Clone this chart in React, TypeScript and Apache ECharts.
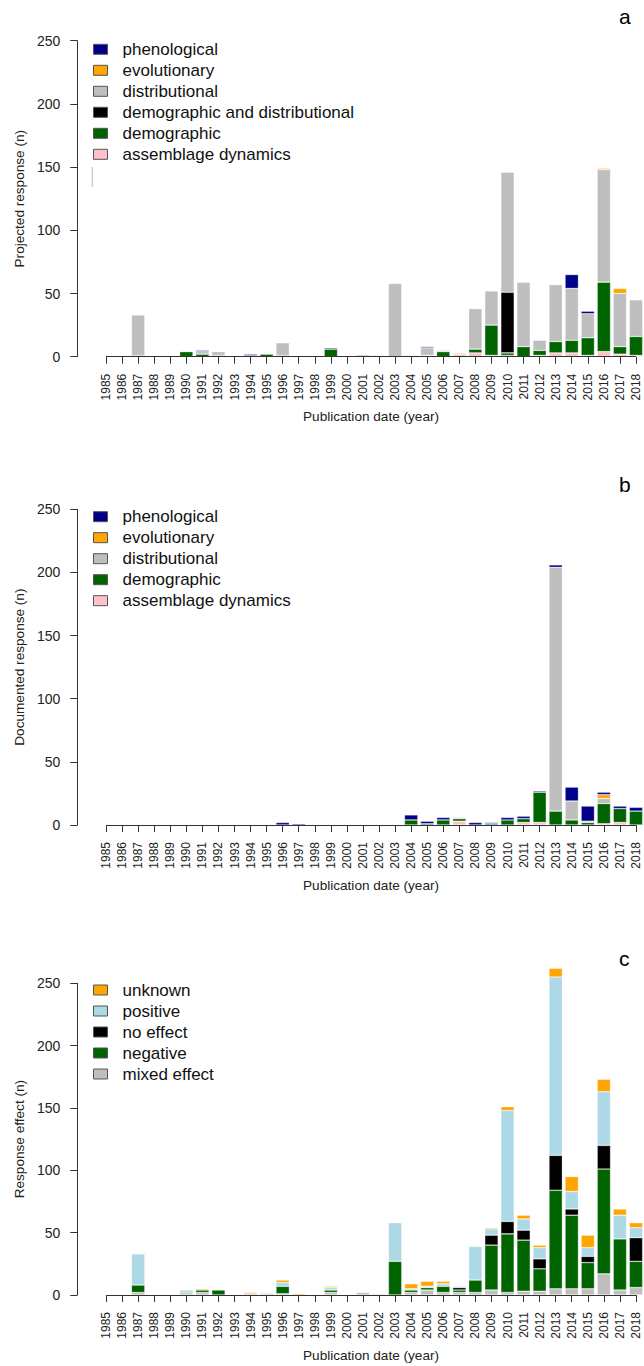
import React, { useEffect, useRef } from "react";
import * as echarts from "echarts";

const YEARS = [
  "1985","1986","1987","1988","1989","1990","1991","1992","1993","1994",
  "1995","1996","1997","1998","1999","2000","2001","2002","2003","2004",
  "2005","2006","2007","2008","2009","2010","2011","2012","2013","2014",
  "2015","2016","2017","2018",
];

// Panel a: projected responses (1985..2018)
const A_ASSEMBLAGE = [0,0,0,0,0, 0,0,0,0,0, 0,0,0,0,0, 0,0,0,0,0, 1,0,2,3,1, 1,0,1,3,3, 1,4,2,1];
const A_DEMOGRAPHIC = [0,0,1,0,0, 4,2,1,0,1, 2,1,0,0,6, 0,1,0,0,0, 0,4,0,3,24, 2,8,4,9,10, 14,55,6,15];
const A_DEMDIST = [0,0,0,0,0, 0,0,0,0,0, 0,0,0,0,0, 0,0,0,0,0, 0,0,0,0,0, 48,0,0,0,0, 0,0,0,0];
const A_DISTRIBUTIONAL = [0,0,32,0,0, 0,2,3,0,0, 0,10,0,0,0, 0,0,1,58,1, 6,1,1,32,27, 95,51,8,45,41, 19,89,42,29];
const A_EVOLUTIONARY = [0,0,0,0,0, 0,0,0,0,0, 0,0,0,0,0, 0,0,0,0,0, 0,0,0,0,0, 0,0,0,0,0, 0,1,4,0];
const A_PHENOLOGICAL = [0,0,0,0,0, 0,1,0,0,1, 0,0,0,0,1, 0,0,0,0,0, 1,0,0,0,0, 0,0,0,0,11, 2,0,0,0];

// Panel b: documented responses
const B_ASSEMBLAGE = [0,0,0,0,0, 0,0,0,0,0, 0,0,0,0,0, 0,0,0,0,0, 0,0,3,0,0, 0,2,2,0,0, 0,1,2,0];
const B_DEMOGRAPHIC = [0,0,0,0,0, 0,0,0,0,0, 0,0,0,0,0, 0,0,0,0,4, 1,4,2,0,1, 4,3,24,11,4, 2,16,11,11];
const B_DISTRIBUTIONAL = [0,0,0,0,0, 0,0,0,0,0, 0,0,0,0,0, 0,0,0,0,0, 0,0,1,0,0, 0,0,0,193,15, 1,4,0,0];
const B_EVOLUTIONARY = [0,0,0,0,0, 0,0,0,0,0, 0,0,0,0,0, 0,0,0,0,0, 0,0,0,0,0, 0,0,0,0,0, 0,3,0,0];
const B_PHENOLOGICAL = [0,0,0,0,0, 0,0,0,0,0, 0,2,1,0,0, 0,0,0,0,4, 2,2,0,2,1, 2,2,1,2,11, 12,2,2,3];

// Panel c: response effect
const C_MIXED = [0,0,2,0,0, 1,2,0,0,1, 1,1,0,0,2, 0,2,0,0,2, 4,2,2,2,4, 2,3,3,5,5, 5,17,4,6];
const C_NEGATIVE = [0,0,6,0,0, 1,2,4,0,0, 0,6,0,0,2, 0,0,0,27,2, 2,5,2,10,36, 47,41,18,79,59, 21,84,41,21];
const C_NOEFFECT = [0,0,0,0,0, 0,0,0,0,0, 0,0,0,0,0, 0,0,0,0,0, 0,0,2,0,8, 10,8,8,28,5, 5,19,0,19];
const C_POSITIVE = [0,0,25,0,0, 2,0,0,0,0, 1,3,0,0,2, 0,0,1,31,1, 1,2,1,27,5, 89,9,9,143,14, 7,43,19,8];
const C_UNKNOWN = [0,0,0,0,0, 0,1,0,0,1, 0,2,1,0,1, 0,0,0,0,4, 4,2,0,0,1, 3,3,2,7,12, 10,10,5,4];

const Y_TICKS = { min: 0, max: 250, interval: 50 };
const PANEL_LETTERS = ["a", "b", "c"];
const Y_TITLES = ["Projected response (n)", "Documented response (n)", "Response effect (n)"];
const X_TITLE = "Publication date (year)";

const COL = {
  navy: "#00008B",
  orange: "#FFA500",
  grey: "#BEBEBE",
  black: "#000000",
  green: "#006400",
  pink: "#FFC0CB",
  lightblue: "#ADD8E6",
};

const PANELS = [
  {
    series: [
      { name: "assemblage dynamics", data: A_ASSEMBLAGE, color: COL.pink },
      { name: "demographic", data: A_DEMOGRAPHIC, color: COL.green },
      { name: "demographic and distributional", data: A_DEMDIST, color: COL.black },
      { name: "distributional", data: A_DISTRIBUTIONAL, color: COL.grey },
      { name: "evolutionary", data: A_EVOLUTIONARY, color: COL.orange },
      { name: "phenological", data: A_PHENOLOGICAL, color: COL.navy },
    ],
  },
  {
    series: [
      { name: "assemblage dynamics", data: B_ASSEMBLAGE, color: COL.pink },
      { name: "demographic", data: B_DEMOGRAPHIC, color: COL.green },
      { name: "distributional", data: B_DISTRIBUTIONAL, color: COL.grey },
      { name: "evolutionary", data: B_EVOLUTIONARY, color: COL.orange },
      { name: "phenological", data: B_PHENOLOGICAL, color: COL.navy },
    ],
  },
  {
    series: [
      { name: "mixed effect", data: C_MIXED, color: COL.grey },
      { name: "negative", data: C_NEGATIVE, color: COL.green },
      { name: "no effect", data: C_NOEFFECT, color: COL.black },
      { name: "positive", data: C_POSITIVE, color: COL.lightblue },
      { name: "unknown", data: C_UNKNOWN, color: COL.orange },
    ],
  },
];

const FONT = "'Liberation Sans', Arial, Helvetica, sans-serif";
const AXIS_COLOR = "#333";

export default function App() {
  const ref = useRef<HTMLDivElement>(null);

  useEffect(() => {
    if (!ref.current) return;
    const chart = echarts.init(ref.current, undefined, { renderer: "svg" });

    const grids = [
      { left: 98, width: 547, top: 40.7, height: 316 },
      { left: 98, width: 547, top: 509.3, height: 315.7 },
      { left: 98, width: 547, top: 983.3, height: 311.7 },
    ];
    const legendTops = [40.8, 508.2, 981.5];
    const letterTops = [18, 486, 960];

    const xAxes = grids.map((_, i) => ({
      type: "category",
      gridIndex: i,
      data: YEARS,
      axisLine: { show: false },
      axisTick: { show: true, alignWithLabel: true, interval: 0, length: 7, lineStyle: { color: AXIS_COLOR } },
      axisLabel: { rotate: 90, interval: 0, fontSize: 12, margin: 17, color: "#222", fontFamily: FONT },
      name: X_TITLE,
      nameLocation: "middle",
      nameGap: 53,
      nameTextStyle: { fontSize: 13.6, color: "#222", fontFamily: FONT },
    }));

    const yAxes = grids.map((_, i) => ({
      type: "value",
      gridIndex: i,
      min: Y_TICKS.min,
      max: Y_TICKS.max,
      interval: Y_TICKS.interval,
      offset: 20.7,
      axisLine: { show: true, lineStyle: { color: AXIS_COLOR } },
      axisTick: { show: true, length: 7, lineStyle: { color: AXIS_COLOR } },
      axisLabel: { fontSize: 14, margin: 17, color: "#222", fontFamily: FONT },
      splitLine: { show: false },
      name: Y_TITLES[i],
      nameLocation: "middle",
      nameGap: 50,
      nameTextStyle: { fontSize: 13.6, color: "#222", fontFamily: FONT },
    }));

    const series: any[] = [];
    PANELS.forEach((p, pi) => {
      p.series.forEach((s, si) => {
        const item: any = {
          type: "bar",
          name: s.name,
          xAxisIndex: pi,
          yAxisIndex: pi,
          stack: "panel" + pi,
          clip: false,
          barCategoryGap: "16.7%",
          data: s.data.map((v) => (v === 0 ? null : v)),
          itemStyle: { color: s.color, borderColor: "rgba(255,255,255,0.55)", borderWidth: 0.6 },
          emphasis: { disabled: true },
        };
        if (si === 0) {
          item.markLine = {
            silent: true,
            symbol: ["none", "none"],
            label: { show: false },
            lineStyle: { color: AXIS_COLOR, width: 1, type: "solid" },
            emphasis: { disabled: true },
            data: [[{ coord: [YEARS[0], 0] }, { coord: [YEARS[YEARS.length - 1], 0] }]],
          };
        }
        series.push(item);
      });
    });

    const legends = PANELS.map((p, pi) => ({
      left: 93,
      top: legendTops[pi],
      padding: 0,
      orient: "vertical",
      icon: "rect",
      itemWidth: 14,
      itemHeight: 10,
      itemGap: 4,
      selectedMode: false,
      data: p.series.map((s) => s.name).reverse(),
      itemStyle: { borderColor: "#555", borderWidth: 1 },
      textStyle: { fontSize: 17, lineHeight: 17, color: "#111", fontFamily: FONT, padding: [0, 0, 0, 10] },
    }));

    const graphics: any[] = PANEL_LETTERS.map((l, i) => ({
      type: "text",
      left: 619,
      top: letterTops[i] - 12,
      style: { text: l, fontSize: 21, fill: "#000", fontFamily: FONT },
    }));
    graphics.push({
      type: "line",
      shape: { x1: 92.3, y1: 167, x2: 92.3, y2: 187 },
      style: { stroke: "#c8c8c8", lineWidth: 1.3 },
    });

    chart.setOption({
      animation: false,
      textStyle: { fontFamily: FONT },
      grid: grids,
      xAxis: xAxes,
      yAxis: yAxes,
      legend: legends,
      series,
      graphic: graphics,
    });

    return () => chart.dispose();
  }, []);

  return (
    <div
      ref={ref}
      style={{ position: "absolute", left: 0, top: 0, width: 644, height: 1366, background: "#fff" }}
    />
  );
}
